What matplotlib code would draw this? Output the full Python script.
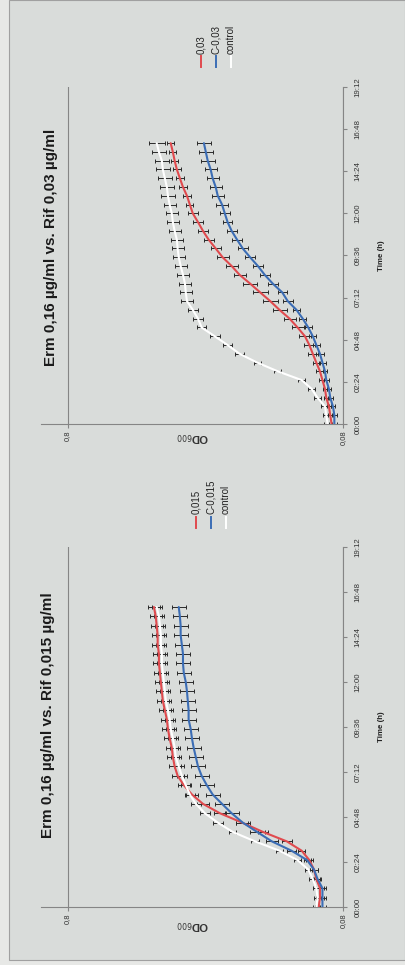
import matplotlib
matplotlib.use('Agg')
import matplotlib.pyplot as plt
from matplotlib.lines import Line2D
from matplotlib.patches import Rectangle
from matplotlib.ticker import NullLocator
import numpy as np

plt.rcParams['font.family'] = ['Liberation Sans', 'DejaVu Sans']

W, H = 405, 965

# ---------------- data ----------------
time_h = [0.0, 0.5, 1.0, 1.5, 2.0, 2.5, 3.0, 3.5, 4.0, 4.5, 5.0, 5.5, 6.0, 6.5,
          7.0, 7.5, 8.0, 8.5, 9.0, 9.5, 10.0, 10.5, 11.0, 11.5, 12.0, 12.5,
          13.0, 13.5, 14.0, 14.5, 15.0, 15.5, 16.0]

time_ticks = [0.0, 2.4, 4.8, 7.2, 9.6, 12.0, 14.4, 16.8, 19.2]
time_labels = ['00:00', '02:24', '04:48', '07:12', '09:36', '12:00', '14:24', '16:48', '19:12']
od_ticks = [0.08, 0.8]
od_labels = ['0,08', '0,8']

# Panel "Rif 0,03" (upper in the page)
rif003_labels = ['0,03', 'C-0,03', 'control']
rif003_red = [0.088, 0.089, 0.090, 0.092, 0.093, 0.095, 0.097, 0.100, 0.103, 0.106, 0.110,
              0.117, 0.125, 0.136, 0.147, 0.160, 0.174, 0.190, 0.203, 0.219, 0.232, 0.246,
              0.258, 0.269, 0.281, 0.288, 0.295, 0.305, 0.313, 0.321, 0.327, 0.332, 0.338]
rif003_blue = [0.086, 0.086, 0.087, 0.089, 0.090, 0.092, 0.093, 0.095, 0.097, 0.100, 0.103,
               0.107, 0.112, 0.118, 0.127, 0.133, 0.144, 0.154, 0.163, 0.174, 0.185, 0.194,
               0.203, 0.210, 0.215, 0.220, 0.228, 0.232, 0.238, 0.242, 0.248, 0.252, 0.256]
rif003_ctrl = [0.091, 0.092, 0.093, 0.099, 0.104, 0.113, 0.138, 0.164, 0.190, 0.210, 0.234,
               0.261, 0.269, 0.281, 0.295, 0.298, 0.300, 0.305, 0.311, 0.316, 0.319, 0.321,
               0.327, 0.332, 0.335, 0.341, 0.346, 0.349, 0.355, 0.361, 0.364, 0.373, 0.380]
# relative error (percent)
rif003_red_err = [2, 2, 2, 2, 2, 3, 3, 3, 4, 5, 5, 5, 5, 6, 6, 6, 6, 5, 5, 5, 4, 4, 4, 4, 4,
                  3, 3, 3, 3, 3, 3, 3, 3]
rif003_blue_err = [2, 2, 2, 2, 2, 2, 2, 3, 3, 3, 3, 3, 3, 3, 4, 4, 4, 4, 4, 4, 4, 4, 4, 4, 4,
                   5, 5, 5, 5, 5, 6, 6, 6]
rif003_ctrl_err = [3, 3, 3, 3, 3, 3, 3, 3, 4, 4, 4, 4, 4, 4, 5, 5, 5, 5, 5, 5, 5, 5, 5, 5, 5,
                   5, 6, 6, 6, 6, 6, 6, 7]

# Panel "Rif 0,015" (lower in the page)
rif0015_labels = ['0,015', 'C-0,015', 'control']
rif0015_red = [0.098, 0.097, 0.097, 0.100, 0.102, 0.106, 0.113, 0.128, 0.156, 0.186, 0.224,
               0.258, 0.283, 0.303, 0.319, 0.327, 0.332, 0.335, 0.341, 0.346, 0.349, 0.355,
               0.361, 0.364, 0.367, 0.370, 0.373, 0.373, 0.377, 0.377, 0.380, 0.383, 0.389]
rif0015_blue = [0.095, 0.095, 0.095, 0.099, 0.102, 0.108, 0.123, 0.145, 0.164, 0.185, 0.203,
                0.220, 0.238, 0.250, 0.261, 0.269, 0.274, 0.279, 0.283, 0.286, 0.291, 0.291,
                0.293, 0.295, 0.298, 0.303, 0.305, 0.305, 0.308, 0.311, 0.311, 0.313, 0.316]
rif0015_ctrl = [0.100, 0.099, 0.100, 0.103, 0.107, 0.117, 0.136, 0.167, 0.201, 0.228, 0.254,
                0.274, 0.288, 0.298, 0.308, 0.316, 0.324, 0.327, 0.332, 0.338, 0.341, 0.346,
                0.352, 0.355, 0.358, 0.361, 0.364, 0.364, 0.367, 0.367, 0.370, 0.373, 0.380]
rif0015_red_err = [3, 3, 3, 3, 3, 3, 3, 4, 4, 5, 5, 5, 5, 5, 5, 5, 5, 5, 5, 5, 5, 5, 5, 5, 5,
                   5, 5, 5, 5, 5, 5, 5, 5]
rif0015_blue_err = [3, 3, 3, 3, 3, 3, 4, 5, 6, 6, 6, 6, 6, 6, 6, 6, 6, 6, 6, 6, 6, 6, 6, 6, 6,
                    6, 6, 6, 6, 6, 6, 6, 6]
rif0015_ctrl_err = [3, 3, 3, 3, 3, 3, 3, 3, 3, 4, 4, 4, 4, 4, 4, 4, 4, 4, 4, 4, 4, 4, 4, 4, 4,
                    4, 4, 4, 4, 4, 4, 4, 4]

title_top = 'Erm 0,16 µg/ml vs. Rif 0,03 µg/ml'
title_bottom = 'Erm 0,16 µg/ml vs. Rif 0,015 µg/ml'

# ---------------- style ----------------
RED = '#e04a4e'
BLUE = '#3b6db5'
WHITE = '#ffffff'
AXC = '#858585'
PAGE = '#d9dcda'
OUTER = '#e7e8e6'

fig = plt.figure(figsize=(W / 100, H / 100), dpi=100)
fig.patch.set_facecolor(OUTER)
fig.add_artist(Rectangle((9 / W, 5 / H), 1 - 9 / W, 1 - 5 / H, transform=fig.transFigure,
                         facecolor=PAGE, edgecolor='#a0a0a0', lw=0.8, zorder=-5))


def px_axes(x0, x1, ytop, ybot):
    return fig.add_axes([x0 / W, 1 - ybot / H, (x1 - x0) / W, (ybot - ytop) / H])


def draw_panel(ax, series, od_label_off):
    ax.set_facecolor('none')
    ax.set_xscale('log')
    for vals, errs, col in series:
        vals = np.asarray(vals)
        e = vals * np.asarray(errs) / 100.0
        ax.errorbar(vals, time_h, xerr=e, fmt='none', ecolor='#2a2a2a', elinewidth=0.7,
                    capsize=1.3, capthick=0.7, zorder=2)
    for vals, errs, col in series:
        ax.plot(vals, time_h, color=col, lw=1.5, zorder=3, solid_capstyle='round')
    ax.set_xlim(1.0, 0.08)
    ax.set_ylim(0, 19.2)
    for s in ('top', 'left'):
        ax.spines[s].set_visible(False)
    for s in ('right', 'bottom'):
        ax.spines[s].set_color(AXC)
        ax.spines[s].set_linewidth(0.8)
    ax.set_xticks(od_ticks)
    ax.set_xticklabels(od_labels, rotation=90, fontsize=5.5, color='#333333')
    ax.xaxis.set_minor_locator(NullLocator())
    ax.tick_params(axis='x', direction='out', length=3, color=AXC, pad=1.5)
    ax.grid(axis='x', which='major', color=AXC, lw=0.8)
    ax.yaxis.tick_right()
    ax.set_yticks(time_ticks)
    ax.set_yticklabels(time_labels, rotation=90, fontsize=5.7, color='#333333', va='center')
    ax.tick_params(axis='y', direction='out', length=3, color=AXC, pad=5.5)
    ax.yaxis.set_label_position('right')
    ax.set_ylabel('Time (h)', rotation=90, fontsize=5.7, fontweight='bold', labelpad=12,
                  color='#222222')
    ax.text(0.5, od_label_off, 'OD$_{600}$', transform=ax.transAxes, rotation=180,
            ha='center', va='center', fontsize=8, fontweight='bold', color='#333333')


ax_top = px_axes(41, 343, 87, 424)
draw_panel(ax_top, [(rif003_red, rif003_red_err, RED),
                    (rif003_blue, rif003_blue_err, BLUE),
                    (rif003_ctrl, rif003_ctrl_err, WHITE)], -13 / 337)

ax_bot = px_axes(41, 343, 547, 907)
draw_panel(ax_bot, [(rif0015_red, rif0015_red_err, RED),
                    (rif0015_blue, rif0015_blue_err, BLUE),
                    (rif0015_ctrl, rif0015_ctrl_err, WHITE)], -18 / 360)

# titles
fig.text(51 / W, 1 - 247 / H, title_top, rotation=90, ha='center', va='center',
         fontsize=11, fontweight='bold', color='#1a1a1a')
fig.text(48 / W, 1 - 715 / H, title_bottom, rotation=90, ha='center', va='center',
         fontsize=11, fontweight='bold', color='#1a1a1a')


# legends (rotated, drawn manually)
def legend(xs, y_text, y0, y1, labels, colors):
    for x, lab, col in zip(xs, labels, colors):
        fig.add_artist(Line2D([x / W, x / W], [1 - y0 / H, 1 - y1 / H], color=col, lw=1.4,
                              transform=fig.transFigure))
        fig.text(x / W, 1 - y_text / H, lab, rotation=90, ha='center', va='bottom',
                 fontsize=7, color='#222222')


legend([201, 216, 231], 54, 56, 67, rif003_labels, [RED, BLUE, WHITE])
legend([196, 211, 226], 514, 517, 528, rif0015_labels, [RED, BLUE, WHITE])

fig.savefig('out.png', dpi=100, facecolor=fig.get_facecolor())
